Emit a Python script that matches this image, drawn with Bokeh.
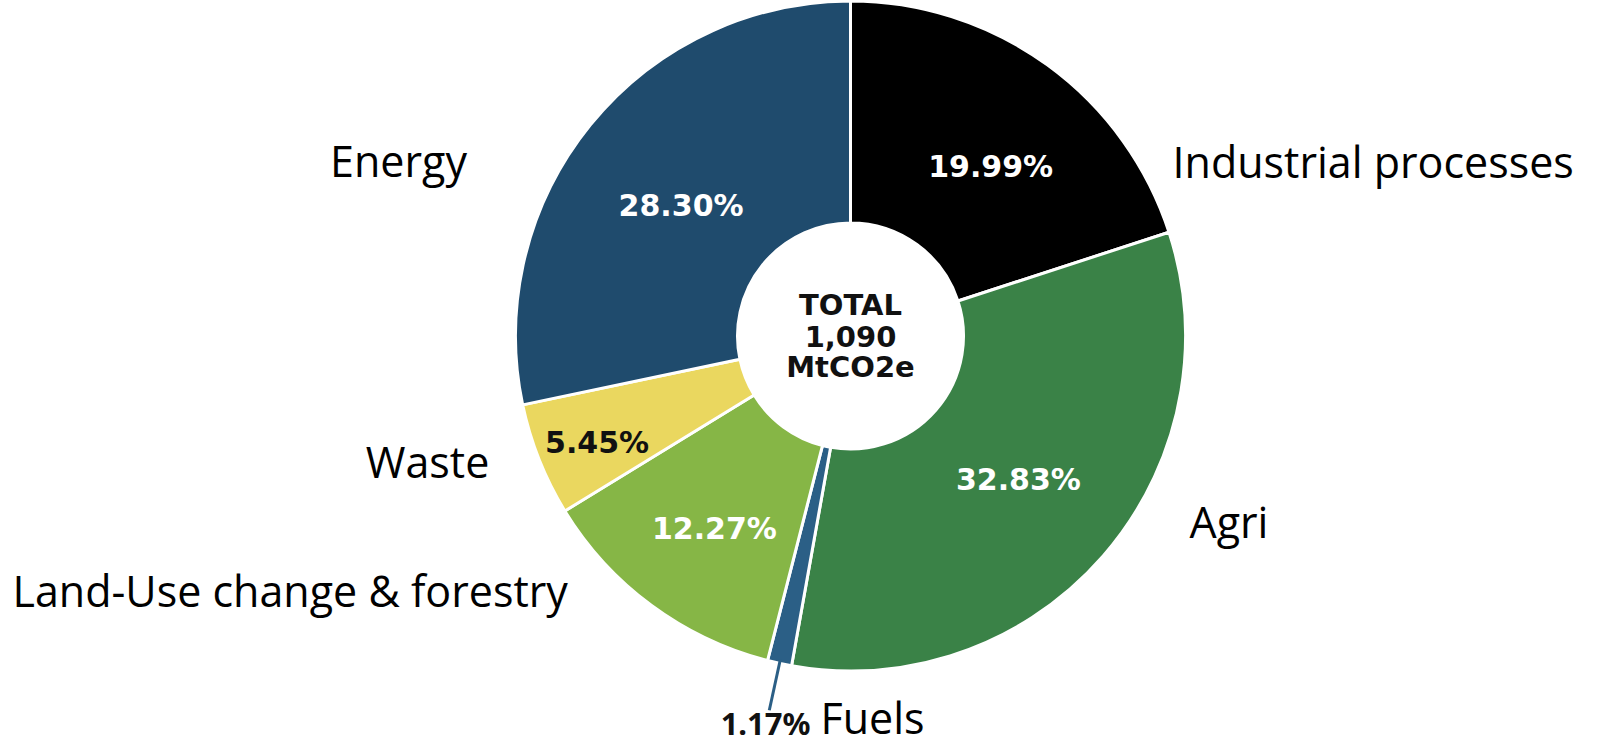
import math
from bokeh.plotting import figure
from bokeh.models import Range1d, ColumnDataSource
from bokeh.core.properties import value
from bokeh.embed import file_html
from bokeh.resources import INLINE

# ---- data ----
categories = ["Industrial processes", "Agri", "Fuels", "Land-Use change & forestry", "Waste", "Energy"]
shares = [19.99, 32.83, 1.17, 12.27, 5.45, 28.30]
pct_labels = ["19.99%", "32.83%", "1.17%", "12.27%", "5.45%", "28.30%"]
colors = ["#000000", "#3a8247", "#2b5f86", "#86b646", "#ead75f", "#1f4b6d"]
total_lines = ["TOTAL", "1,090", "MtCO2e"]

# ---- layout ----
W, H = 1601, 747
cx, cy = 850, 747 - 335.5
R_out, R_in = 335, 113

p = figure(width=W, height=H, output_backend="svg", toolbar_location=None,
           x_range=Range1d(0, W), y_range=Range1d(0, H), min_border=0)
p.axis.visible = False
p.grid.visible = False
p.outline_line_color = None
p.background_fill_color = "white"
p.border_fill_color = "white"

tot = sum(shares)
starts, ends, mids = [], [], []
cum = 0.0
for s in shares:
    a0 = math.pi / 2 - 2 * math.pi * cum / tot
    cum += s
    a1 = math.pi / 2 - 2 * math.pi * cum / tot
    starts.append(a0)
    ends.append(a1)
    mids.append((a0 + a1) / 2)

src = ColumnDataSource(dict(x=[cx] * len(shares), y=[cy] * len(shares),
                            start=starts, end=ends, color=colors, cat=categories))
p.annular_wedge(x="x", y="y", inner_radius=R_in, outer_radius=R_out,
                start_angle="start", end_angle="end", direction="clock",
                fill_color="color", line_color="white", line_width=3, source=src)

# percentage labels inside slices (radius and small angular nudge, degrees)
label_r = [220, 221, None, 236, 275, 214]
label_da = [-3.6, 0.5, 0, 1.2, 1.2, 1.4]
lab_x, lab_y, lab_t, lab_c = [], [], [], []
for i, t in enumerate(pct_labels):
    if label_r[i] is None:
        continue
    ang = mids[i] + math.radians(label_da[i])
    lab_x.append(cx + label_r[i] * math.cos(ang))
    lab_y.append(cy + label_r[i] * math.sin(ang))
    lab_t.append(t)
    lab_c.append("#111111" if categories[i] == "Waste" else "white")
p.text(x=lab_x, y=lab_y, text=lab_t, text_color=lab_c,
       text_font=value("DejaVu Sans"), text_font_style="bold", text_font_size="30px",
       text_align="center", text_baseline="middle")

# center total
p.text(x=[cx] * 3, y=[cy + 31, cy, cy - 31], text=total_lines, text_color="#111111",
       text_font=value("DejaVu Sans"), text_font_style="bold", text_font_size="29px",
       text_align="center", text_baseline="middle")

# Fuels leader line
fi = categories.index("Fuels")
a = mids[fi]
p.line(x=[cx + (R_out - 4) * math.cos(a), cx + (R_out + 48) * math.cos(a)],
       y=[cy + (R_out - 4) * math.sin(a), cy + (R_out + 48) * math.sin(a)],
       line_color=colors[fi], line_width=3)
p.text(x=[810], y=[H - 722], text=[pct_labels[fi]], text_color="#111111",
       text_font=value("Noto Sans"), text_font_style="bold", text_font_size="31px",
       text_align="right", text_baseline="middle")

# outer category labels
out_x = [1172, 1189, 820, 12, 427, 398]
out_y = [H - 161, H - 521, H - 717, H - 590, H - 461, H - 160]
out_align = ["left", "left", "left", "left", "center", "center"]
for i, c in enumerate(categories):
    p.text(x=[out_x[i]], y=[out_y[i]], text=[c], text_color="black",
           text_font=value("Open Sans"), text_font_size="43px",
           text_align=out_align[i], text_baseline="middle")

open("out.html", "w").write(file_html(p, INLINE))
